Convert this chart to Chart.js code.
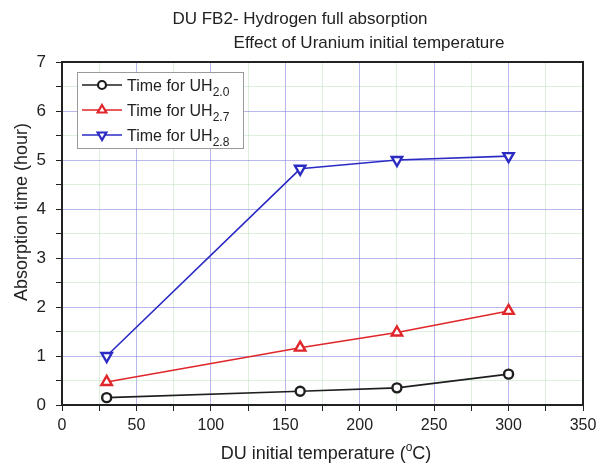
<!DOCTYPE html>
<html>
<head>
<meta charset="utf-8">
<script src="https://cdn.jsdelivr.net/npm/chart.js@4"></script>
<style>
  html, body { margin: 0; padding: 0; background: #fff; }
  #wrap { width: 597px; height: 466px; }
</style>
</head>
<body>
<div id="wrap"><canvas id="chart" width="597" height="466"></canvas></div>
<script>
// Data
const temps = [30, 160, 225, 300];
const uh20 = [0.15, 0.28, 0.35, 0.63];
const uh27 = [0.47, 1.17, 1.48, 1.92];
const uh28 = [1.00, 4.82, 5.00, 5.08];
const seriesSubs = ['2.0', '2.7', '2.8'];
const xTicks = [0, 50, 100, 150, 200, 250, 300, 350];
const yTicks = [0, 1, 2, 3, 4, 5, 6, 7];

const FONT = '"Liberation Sans", Arial, sans-serif';

function toPoints(vals) {
    return temps.map((t, i) => ({ x: t, y: vals[i] }));
}

// Titles, axis titles and legend (needs subscripts / superscript)
const decorations = {
    id: 'decorations',
    afterDraw(chart) {
        const c = chart.ctx;
        const area = chart.chartArea;
        c.save();
        c.fillStyle = '#222';
        c.textBaseline = 'alphabetic';

        // title
        c.font = '17px ' + FONT;
        c.textAlign = 'center';
        c.fillText('DU FB2- Hydrogen full absorption', 300, 24);
        c.fillText('Effect of Uranium initial temperature', 369, 48);

        // x axis title with superscript o
        c.textAlign = 'left';
        const a = 'DU initial temperature (';
        const b = 'C)';
        c.font = '12px ' + FONT;
        const wo = c.measureText('o').width;
        c.font = '18px ' + FONT;
        const total = c.measureText(a).width + wo + c.measureText(b).width;
        let x = 326 - total / 2;
        c.fillText(a, x, 459);
        x += c.measureText(a).width;
        c.font = '12px ' + FONT;
        c.fillText('o', x, 451);
        x += wo;
        c.font = '18px ' + FONT;
        c.fillText(b, x, 459);

        // y axis title
        c.save();
        c.translate(27, 212);
        c.rotate(-Math.PI / 2);
        c.textAlign = 'center';
        c.font = '18px ' + FONT;
        c.fillText('Absorption time (hour)', 0, 0);
        c.restore();

        // legend
        const lx = 77, ly = 72, lw = 166, lh = 76;
        c.fillStyle = '#fff';
        c.fillRect(lx, ly, lw, lh);
        c.strokeStyle = '#9a9a9a';
        c.lineWidth = 1;
        c.strokeRect(lx + 0.5, ly + 0.5, lw, lh);
        chart.data.datasets.forEach((ds, i) => {
            const yy = ly + 13 + i * 25;
            c.strokeStyle = ds.borderColor;
            c.lineWidth = 1.6;
            c.beginPath();
            c.moveTo(lx + 5, yy);
            c.lineTo(lx + 45, yy);
            c.stroke();
            c.lineWidth = 2.2;
            c.fillStyle = '#fff';
            Chart.helpers.drawPoint(c, {
                pointStyle: ds.pointStyle,
                rotation: ds.pointRotation || 0,
                radius: ds.pointStyle === 'circle' ? 4 : 5,
                borderWidth: 2.2
            }, lx + 25, yy);
            c.fillStyle = '#222';
            c.font = '16px ' + FONT;
            c.textAlign = 'left';
            const t = 'Time for UH';
            c.fillText(t, lx + 50, yy + 6);
            const tw = c.measureText(t).width;
            c.font = '12px ' + FONT;
            c.fillText(seriesSubs[i], lx + 50 + tw, yy + 11);
        });

        // frame
        c.strokeStyle = '#222';
        c.lineWidth = 2;
        c.strokeRect(area.left, area.top, area.right - area.left, area.bottom - area.top);
        c.restore();
    }
};

const majorGrid = 'rgba(125, 125, 220, 0.55)';
const minorGrid = 'rgba(170, 215, 170, 0.4)';

new Chart(document.getElementById('chart'), {
    type: 'line',
    data: {
        datasets: [
            {
                label: 'Time for UH2.0',
                data: toPoints(uh20),
                borderColor: '#1e1e1e',
                backgroundColor: '#fff',
                pointStyle: 'circle',
                pointRadius: 4.5,
                pointBorderWidth: 2.4,
                borderWidth: 1.6
            },
            {
                label: 'Time for UH2.7',
                data: toPoints(uh27),
                borderColor: '#e0262a',
                backgroundColor: '#fff',
                pointStyle: 'triangle',
                pointRadius: 6,
                pointBorderWidth: 2.4,
                borderWidth: 1.6
            },
            {
                label: 'Time for UH2.8',
                data: toPoints(uh28),
                borderColor: '#2b2bc4',
                backgroundColor: '#fff',
                pointStyle: 'triangle',
                pointRotation: 180,
                pointRadius: 6,
                pointBorderWidth: 2.4,
                borderWidth: 1.6
            }
        ]
    },
    options: {
        responsive: false,
        animation: false,
        layout: { padding: { top: 62, right: 14, left: 0, bottom: 0 } },
        plugins: {
            legend: { display: false },
            tooltip: { enabled: false }
        },
        scales: {
            x: {
                type: 'linear',
                min: 0,
                max: 350,
                afterFit: s => {
                    s.height = 61;
                    s.paddingLeft = 0;
                    s.paddingRight = 0;
                },
                afterBuildTicks: s => {
                    s.ticks = [];
                    for (let v = 0; v <= 350; v += 25) s.ticks.push({ value: v });
                },
                border: { display: false },
                grid: {
                    color: ctx => (ctx.tick && ctx.tick.value % 50 === 0) ? majorGrid : minorGrid,
                    tickColor: '#222',
                    tickLength: 6,
                    lineWidth: 1
                },
                ticks: {
                    color: '#222',
                    font: { family: FONT, size: 16 },
                    padding: 5,
                    maxRotation: 0,
                    autoSkip: false,
                    callback: v => xTicks.includes(v) ? String(v) : ''
                }
            },
            y: {
                min: 0,
                max: 7,
                afterFit: s => {
                    s.width = 62;
                    s.paddingTop = 0;
                    s.paddingBottom = 0;
                },
                afterBuildTicks: s => {
                    s.ticks = [];
                    for (let v = 0; v <= 7; v += 0.5) s.ticks.push({ value: v });
                },
                border: { display: false },
                grid: {
                    color: ctx => (ctx.tick && Number.isInteger(ctx.tick.value)) ? majorGrid : minorGrid,
                    tickColor: '#222',
                    tickLength: 6,
                    lineWidth: 1
                },
                ticks: {
                    color: '#222',
                    font: { family: FONT, size: 17 },
                    padding: 10,
                    autoSkip: false,
                    callback: v => yTicks.includes(v) ? String(v) : ''
                }
            }
        }
    },
    plugins: [decorations]
});
</script>
</body>
</html>
